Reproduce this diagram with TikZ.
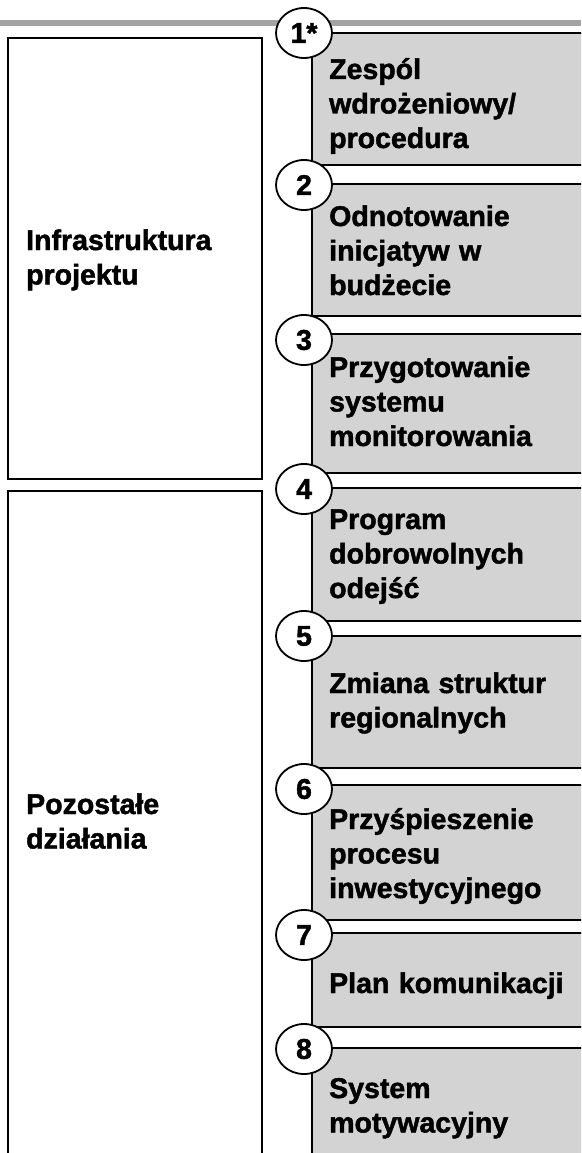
\documentclass[tikz,border=0pt]{standalone}
\usepackage{fontspec}
\setmainfont{Liberation Sans}[BoldFeatures={FakeBold=1.6}]
\usetikzlibrary{shapes.geometric}

\definecolor{bargray}{RGB}{163,163,163}
\definecolor{boxgray}{RGB}{211,211,211}

\tikzset{
	stepbox/.style={draw=black, line width=1.8pt, fill=boxgray},
	groupbox/.style={draw=black, line width=1.8pt, fill=white},
	numcircle/.style={ellipse, draw=black, line width=1.8pt, fill=white, minimum width=56pt, minimum height=50pt, inner sep=0pt, font=\bfseries\fontsize{28.5}{28.5}\selectfont},
	steptext/.style={anchor=base west, align=left, text width=250pt, inner sep=0pt, font=\bfseries\fontsize{28.5}{34.5}\selectfont}
}

\begin{document}
\begin{tikzpicture}[x=1pt, y=-1pt]
		
		\useasboundingbox (0,0) rectangle (581,1153);
		\clip (0,0) rectangle (581,1153);
		
		% top bar
		\draw[bargray, line width=6pt] (0,23.5) -- (581,23.5);
		
		% left groups
		\draw[groupbox] (8,38) rectangle (262,479);
		\draw[groupbox] (8,491) rectangle (262,1170);
		\node[steptext] (g1) at (26,250) {Infrastruktura\\projektu};
		\node[steptext] (g2) at (26,814) {Pozostałe\\działania};
		
		% steps
		\draw[stepbox] (312,33) rectangle (600,165);
		\draw[stepbox] (312,184) rectangle (600,316);
		\draw[stepbox] (312,334) rectangle (600,473);
		\draw[stepbox] (312,488) rectangle (600,621);
		\draw[stepbox] (312,636) rectangle (600,768);
		\draw[stepbox] (312,785) rectangle (600,920);
		\draw[stepbox] (312,933) rectangle (600,1027);
		\draw[stepbox] (312,1048) rectangle (600,1170);
		
		\node[steptext] (t1) at (329,79) {Zespól\\wdrożeniowy/\\procedura};
		\node[steptext] (t2) at (329,226) {Odnotowanie\\inicjatyw w\\budżecie};
		\node[steptext] (t3) at (329,377) {Przygotowanie\\systemu\\monitorowania};
		\node[steptext] (t4) at (329,529) {Program\\dobrowolnych\\odejść};
		\node[steptext] (t5) at (329,693) {Zmiana struktur\\regionalnych};
		\node[steptext] (t6) at (329,829) {Przyśpieszenie\\procesu\\inwestycyjnego};
		\node[steptext] (t7) at (329,993) {Plan komunikacji};
		\node[steptext] (t8) at (329,1098) {System\\motywacyjny};
		
		% numbers
		\node[numcircle] (c1) at (304,33) {1*};
		\node[numcircle] (c2) at (304,185) {2};
		\node[numcircle] (c3) at (304,340) {3};
		\node[numcircle] (c4) at (304,489) {4};
		\node[numcircle] (c5) at (304,636) {5};
		\node[numcircle] (c6) at (304,789) {6};
		\node[numcircle] (c7) at (304,935) {7};
		\node[numcircle] (c8) at (304,1049) {8};
		
	\end{tikzpicture}
\end{document}
